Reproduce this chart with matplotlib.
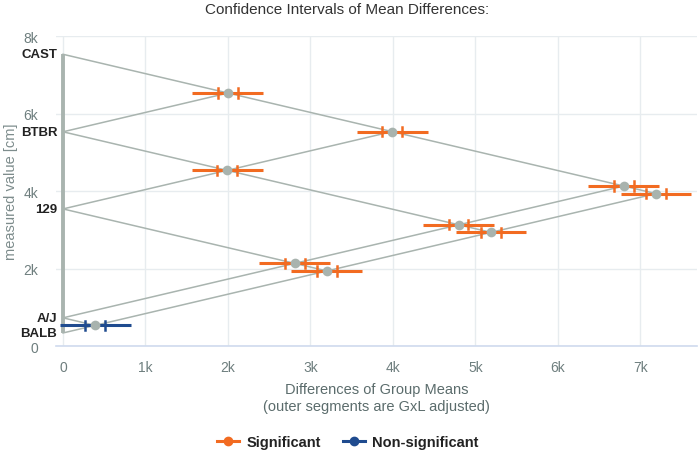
import numpy as np
import matplotlib.pyplot as plt
from matplotlib.lines import Line2D

plt.rcParams['font.family'] = ['Liberation Sans', 'DejaVu Sans']

# group means
groups = ["CAST", "BTBR", "129", "A/J", "BALB"]
group_means = [7530, 5530, 3540, 730, 340]

# pairwise comparisons (index into groups), interval half-widths, significance
pair_a = [0, 0, 1, 0, 0, 1, 1, 2, 2, 3]
pair_b = [1, 2, 2, 3, 4, 3, 4, 3, 4, 4]
inner_half = [120, 120, 120, 120, 120, 115, 120, 120, 120, 120]
outer_half = [430, 430, 430, 430, 430, 430, 430, 430, 430, 430]
significant = [True, True, True, True, True, True, True, True, True, False]

x_ticks = [0, 1000, 2000, 3000, 4000, 5000, 6000, 7000]
x_tick_labels = ["0", "1k", "2k", "3k", "4k", "5k", "6k", "7k"]
y_ticks = [0, 2000, 4000, 6000, 8000]
y_tick_labels = ["0", "2k", "4k", "6k", "8k"]

ORANGE = "#f26b21"
BLUE = "#1f4b8f"
GRAY = "#a9b4af"
GRID = "#e7ecef"
TICK_COLOR = "#6e7e7e"

fig = plt.figure(figsize=(7, 4.52), dpi=100)
ax = fig.add_axes([0.08, 0.232, 0.916, 0.686])

means = np.array(group_means, dtype=float)

# guide lines from each group to its farthest partner, going up and down
for m in means:
    lo = means.min()
    hi = means.max()
    if m > lo:
        ax.plot([0, m - lo], [m, (m + lo) / 2], color=GRAY, lw=1.1, zorder=1)
    if m < hi:
        ax.plot([0, hi - m], [m, (hi + m) / 2], color=GRAY, lw=1.1, zorder=1)

# vertical bar along the group axis
ax.plot([0, 0], [means.min(), means.max()], color=GRAY, lw=2.8, zorder=1,
        solid_capstyle="butt")

for a, b, ih, oh, sig in zip(pair_a, pair_b, inner_half, outer_half, significant):
    d = means[a] - means[b]
    y = (means[a] + means[b]) / 2
    c = ORANGE if sig else BLUE
    ax.plot([d - oh, d + oh], [y, y], color=c, lw=2.2, zorder=2,
            solid_capstyle="butt")
    ax.plot([d - ih, d - ih], [y - 120, y + 120], color=c, lw=1.8, zorder=2)
    ax.plot([d + ih, d + ih], [y - 120, y + 120], color=c, lw=1.8, zorder=2)
    ax.plot(d, y, "o", color="#a8b3ae", ms=7, mec="none", zorder=3)

for name, m in zip(groups, means):
    ax.text(-70, m, name, ha="right", va="center", fontsize=9.5,
            fontweight="bold", color="#222222")

ax.set_xlim(-85, 7690)
ax.set_ylim(0, 8000)
ax.set_xticks(x_ticks)
ax.set_xticklabels(x_tick_labels)
ax.set_yticks(y_ticks)
ax.set_yticklabels(y_tick_labels)
ax.tick_params(axis="both", length=0, labelsize=10, colors=TICK_COLOR)
ax.tick_params(axis="y", pad=13)
ax.tick_params(axis="x", pad=10)
ax.grid(True, color=GRID, lw=1)
ax.set_axisbelow(True)
for s in ["top", "right", "left"]:
    ax.spines[s].set_visible(False)
ax.spines["bottom"].set_color("#cfdaee")
ax.spines["bottom"].set_linewidth(1.2)

ax.set_xlabel("Differences of Group Means\n(outer segments are GxL adjusted)",
              fontsize=10.5, color="#5b6c6c", labelpad=6)
ax.set_ylabel("measured value [cm]", fontsize=10.5, color="#7d8c8c", labelpad=4)
fig.text(0.496, 0.993, "Confidence Intervals of Mean Differences:",
         ha="center", va="top", fontsize=11, color="#333333")

handles = [
    Line2D([0], [0], color=ORANGE, lw=2.2, marker="o", ms=6),
    Line2D([0], [0], color=BLUE, lw=2.2, marker="o", ms=6),
]
leg = fig.legend(handles, ["Significant", "Non-significant"], loc="center",
                 bbox_to_anchor=(0.497, 0.019), ncol=2, frameon=False,
                 handlelength=1.5, columnspacing=1.5, handletextpad=0.5,
                 prop={"weight": "bold", "size": 10.5})
for t in leg.get_texts():
    t.set_color("#222222")

fig.savefig("out.png", dpi=100)
